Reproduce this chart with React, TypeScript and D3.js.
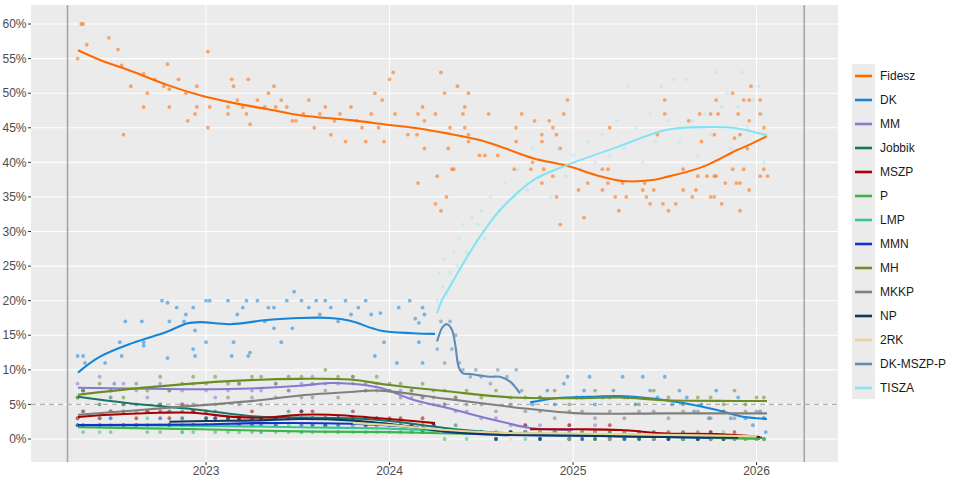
import React from 'react';
import * as d3 from 'd3';

const W = 960;
const H = 480;

// ---- axes ----
const yearTicks = [2023, 2024, 2025, 2026];
const pctTicks = [0, 5, 10, 15, 20, 25, 30, 35, 40, 45, 50, 55, 60];
const electionYears = [2022.245, 2026.26];
const threshold = 5;

// ---- parties (legend order) ----
const parties = ['Fidesz', 'DK', 'MM', 'Jobbik', 'MSZP', 'P', 'LMP', 'MMN', 'MH', 'MKKP', 'NP', '2RK', 'DK-MSZP-P', 'TISZA'];
const partyColors = ['#FF6A00', '#1585D8', '#8878D0', '#1B7566', '#A80000', '#3CB44B', '#36C98E', '#1433CC', '#6B8E23', '#808080', '#0D3A5C', '#E6D496', '#5B8DB8', '#86E3F5'];

// ---- polls (year, %) ----
const fideszPolls: [number, number][] = [
  [2022.30, 55], [2022.32, 60], [2022.33, 60], [2022.35, 57], [2022.47, 58], [2022.52, 56.3], [2022.54, 54], [2022.55, 44],
  [2022.59, 51], [2022.66, 48], [2022.66, 52.8], [2022.68, 50], [2022.72, 52], [2022.77, 51], [2022.79, 54.2], [2022.80, 50.6],
  [2022.80, 48], [2022.85, 52], [2022.89, 50], [2022.90, 46], [2022.94, 47], [2022.95, 51], [2022.95, 48], [2023.01, 56],
  [2023.01, 45], [2023.02, 48], [2023.12, 48], [2023.12, 47], [2023.14, 52], [2023.15, 51], [2023.17, 49], [2023.20, 48],
  [2023.22, 47], [2023.23, 52], [2023.24, 45.5], [2023.28, 49], [2023.32, 48], [2023.34, 50], [2023.37, 51], [2023.38, 48],
  [2023.41, 49], [2023.44, 48], [2023.47, 46], [2023.49, 46], [2023.53, 47], [2023.56, 49], [2023.59, 45], [2023.62, 47],
  [2023.65, 48], [2023.68, 44], [2023.70, 46], [2023.73, 47], [2023.76, 43], [2023.79, 48], [2023.82, 46], [2023.85, 45],
  [2023.87, 43], [2023.90, 47], [2023.92, 50], [2023.94, 45], [2023.96, 49], [2023.97, 43], [2024.00, 52], [2024.02, 53],
  [2024.03, 47], [2024.28, 53], [2024.37, 51], [2024.30, 50], [2024.43, 50], [2024.18, 48], [2024.41, 48], [2024.155, 47],
  [2024.25, 47], [2024.40, 47], [2024.54, 47], [2024.72, 47], [2024.95, 47], [2024.97, 49], [2024.19, 46], [2024.79, 46],
  [2024.87, 46], [2024.33, 45], [2024.41, 45], [2024.69, 45], [2024.89, 45], [2025.20, 45], [2024.10, 44], [2024.15, 44],
  [2024.43, 44], [2024.83, 44], [2024.91, 44], [2024.43, 43], [2024.69, 43], [2024.83, 43], [2024.19, 42], [2024.32, 42],
  [2024.93, 42], [2024.49, 41], [2024.52, 41], [2024.59, 41], [2024.78, 40], [2024.34, 39], [2024.35, 39], [2024.68, 39],
  [2024.77, 39], [2024.84, 39], [2025.16, 39], [2025.19, 39], [2024.26, 38], [2024.89, 38], [2024.155, 37], [2024.83, 37],
  [2025.08, 37], [2025.19, 37], [2025.27, 37], [2024.31, 35], [2024.91, 35], [2025.03, 36], [2025.16, 36], [2025.23, 35],
  [2025.29, 35], [2024.25, 34], [2024.28, 33], [2024.93, 31], [2025.06, 32], [2025.25, 33], [2025.50, 49], [2025.50, 47],
  [2025.46, 44], [2025.39, 37], [2025.44, 36], [2025.38, 36], [2025.40, 35], [2025.42, 34], [2025.49, 34], [2025.52, 33],
  [2025.56, 34], [2025.60, 36], [2025.60, 39], [2025.65, 35], [2025.67, 36], [2025.63, 46], [2025.69, 47], [2025.70, 43],
  [2025.68, 38], [2025.73, 38], [2025.77, 38], [2025.78, 38], [2025.75, 35], [2025.77, 35], [2025.81, 34], [2025.78, 49],
  [2025.75, 47], [2025.79, 47], [2025.77, 44], [2025.83, 37], [2025.87, 50], [2025.87, 39], [2025.88, 43.5], [2025.89, 37],
  [2025.90, 47], [2025.91, 44], [2025.91, 37], [2025.91, 33], [2025.93, 39], [2025.93, 49], [2025.96, 49], [2025.97, 51],
  [2025.96, 46], [2025.95, 42], [2025.96, 36], [2026.02, 49], [2026.02, 47], [2026.02, 38], [2026.04, 39], [2026.06, 38],
  [2026.04, 45],
];

const dkPolls: [number, number][] = [
  [2022.30, 12], [2022.33, 12], [2022.34, 11], [2022.45, 11], [2022.50, 8], [2022.53, 14], [2022.54, 12], [2022.56, 17],
  [2022.65, 17], [2022.66, 14], [2022.66, 13.5], [2022.76, 20], [2022.79, 19.7], [2022.80, 17], [2022.79, 11.7], [2022.84, 19],
  [2022.88, 17], [2022.89, 18], [2022.93, 19], [2022.93, 13], [2022.94, 12], [2022.94, 15.7], [2023.00, 20], [2023.02, 20],
  [2023.00, 14], [2023.12, 20], [2023.14, 12], [2023.15, 14], [2023.17, 18], [2023.20, 19], [2023.22, 20], [2023.23, 12],
  [2023.24, 12.5], [2023.28, 20], [2023.32, 17], [2023.34, 19], [2023.37, 19], [2023.37, 16], [2023.41, 14], [2023.44, 20],
  [2023.47, 16], [2023.48, 21.3], [2023.52, 20], [2023.56, 19], [2023.60, 20], [2023.62, 18], [2023.65, 20], [2023.68, 19],
  [2023.72, 17], [2023.76, 20], [2023.79, 18], [2023.83, 19], [2023.87, 20], [2023.90, 18], [2023.92, 12], [2023.95, 18.2],
  [2023.97, 14], [2024.04, 11], [2024.05, 19], [2024.11, 20], [2024.14, 17.4], [2024.16, 16.8], [2024.16, 14], [2024.18, 19],
  [2024.19, 18], [2024.18, 11],
  [2024.78, 5], [2024.82, 6], [2024.86, 7], [2024.90, 5], [2024.95, 8], [2024.97, 9], [2025.02, 6], [2025.06, 7],
  [2025.09, 9], [2025.12, 5], [2025.16, 6], [2025.22, 7], [2025.27, 9], [2025.30, 6], [2025.34, 5], [2025.38, 9],
  [2025.42, 7], [2025.46, 6], [2025.50, 9], [2025.54, 5], [2025.58, 7], [2025.62, 6], [2025.66, 4], [2025.70, 5],
  [2025.74, 3], [2025.78, 7], [2025.82, 4], [2025.86, 3], [2025.90, 6], [2025.94, 3], [2025.98, 2], [2026.02, 4],
  [2026.04, 3], [2026.05, 1],
];

const dkMszpPPolls: [number, number][] = [
  [2024.26, 13], [2024.28, 17], [2024.30, 11], [2024.33, 17], [2024.34, 13], [2024.36, 15], [2024.38, 11], [2024.40, 10],
  [2024.44, 9], [2024.47, 10], [2024.50, 9], [2024.55, 8], [2024.59, 10], [2024.64, 9], [2024.69, 10], [2024.72, 7],
];

const tiszaPolls: [number, number][] = [
  [2024.26, 20], [2024.27, 24], [2024.29, 22], [2024.30, 26], [2024.31, 21], [2024.33, 24], [2024.35, 27], [2024.37, 25],
  [2024.38, 29], [2024.40, 31], [2024.42, 27], [2024.45, 32], [2024.48, 31], [2024.50, 33], [2024.52, 29], [2024.55, 35],
  [2024.60, 33], [2024.63, 37], [2024.68, 35], [2024.70, 39], [2024.75, 36], [2024.78, 42], [2024.82, 38], [2024.85, 40],
  [2024.88, 35], [2024.92, 42], [2024.96, 38], [2025.00, 41], [2025.04, 39], [2025.08, 43], [2025.12, 40], [2025.16, 44],
  [2025.20, 41], [2025.24, 46], [2025.28, 42], [2025.30, 51], [2025.34, 45], [2025.38, 40], [2025.42, 47], [2025.45, 43],
  [2025.48, 51], [2025.52, 46], [2025.55, 52], [2025.58, 43], [2025.62, 52], [2025.65, 46], [2025.68, 41], [2025.72, 47],
  [2025.75, 44], [2025.78, 53], [2025.81, 48], [2025.84, 50], [2025.86, 42], [2025.90, 48], [2025.92, 53], [2025.95, 45],
  [2025.98, 49], [2026.01, 51], [2026.03, 47], [2026.05, 44], [2026.04, 40],
];

// small parties: common poll dates, one value per poll (null = not polled)
const pollYears = [
  2022.30, 2022.33, 2022.42, 2022.48, 2022.55, 2022.62, 2022.68, 2022.75, 2022.80, 2022.87,
  2022.93, 2023.00, 2023.05, 2023.12, 2023.18, 2023.25, 2023.30, 2023.38, 2023.45, 2023.52,
  2023.58, 2023.65, 2023.72, 2023.80, 2023.87, 2023.93, 2024.00, 2024.06, 2024.12, 2024.18,
  2024.24, 2024.30, 2024.36, 2024.42, 2024.50, 2024.58, 2024.66, 2024.74, 2024.82, 2024.90,
  2024.98, 2025.05, 2025.12, 2025.20, 2025.28, 2025.36, 2025.44, 2025.52, 2025.60, 2025.68,
  2025.75, 2025.82, 2025.88, 2025.94, 2026.00, 2026.04,
];
const n = null;
const mmPolls = [8, 7, 9, 7, 8, 7, 6, 8, 7, 7, 8, 7, 6, 7, 8, 7, 7, 8, 7, 8, 9, 8, 8, 9, 7, 8, 7, 7, 6, 6, 5, 5, 4, 4, 3, 3, 2, 2, 2, 1, 2, 1, 2, 1, n, n, n, n, n, n, n, n, n, n, n, n];
const jobbikPolls = [6, 7, 5, 6, 5, 5, 4, 5, 4, 4, 4, 3, 4, 3, 3, 3, 3, 3, 4, 3, 3, 2, 3, 3, 2, 3, 2, 2, 2, 2, 2, 1, 2, 1, 1, 1, 1, 1, 1, 1, 1, 0, 1, 1, 0, 1, 0, 1, 0, 0, 1, 0, 0, 0, 0, n];
const mszpPolls = [3, 4, 3, 4, 4, 3, 4, 4, 3, 5, 4, 4, 3, 3, 3, 4, 3, 3, 3, 4, 4, 3, 3, 4, 3, 3, 3, 3, 2, 3, 2, n, n, n, n, n, n, 2, 1, 1, 2, 1, 1, 2, 1, 1, 1, 1, 1, 1, 1, 0, 1, 0, 0, 0];
const pPolls = [2, 1, 2, 1, 2, 2, 1, 1, 2, 1, 1, 2, 1, 1, 1, 1, 1, 1, 1, 1, 1, 1, 1, 1, 1, 1, 1, 1, 1, 1, 1, 0, 1, 1, 1, 0, 1, 1, 0, 1, 0, 1, 0, 1, 0, 0, 1, 0, 0, 0, 0, 0, 0, 0, 0, 0];
const lmpPolls = [2, 2, 1, 2, 2, 2, 3, 2, 2, 1, 2, 2, 2, 3, 2, 2, 1, 2, 2, 1, 2, 2, 1, 2, 1, 2, 2, 1, 1, 1, 1, 1, 1, 0, 1, 1, 1, 0, 1, 1, 0, 1, 1, 0, 1, 0, 1, 0, 1, 0, 0, 1, 0, 0, 0, 0];
const mmnPolls = [2, 2, 2, 3, 2, 2, 2, 3, 2, 2, 2, 2, 3, 2, 2, 3, 2, 2, 3, 2, 2, 2, 3, 2, 2, 2, 2, 2, 2, 1, 2, 1, 1, 1, 1, 0, 1, 1, 0, 1, 0, 0, 1, 0, 0, 1, 0, 0, 0, 0, 0, n, n, n, n, n];
const mhPolls = [6, 7, 8, 7, 6, 8, 7, 9, 7, 8, 9, 8, 9, 8, 8, 9, 9, 8, 9, 9, 8, 10, 9, 9, 8, 9, 8, 8, 7, 8, 7, 7, 6, 7, 6, 7, 6, 6, 6, 7, 5, 6, 7, 6, 6, 5, 7, 6, 5, 6, 6, 5, 7, 5, 6, 6];
const mkkpPolls = [3, 4, 3, 4, 5, 4, 4, 5, 4, 5, 5, 4, 5, 6, 5, 6, 5, 6, 7, 6, 6, 7, 6, 8, 7, 7, 7, 6, 7, 6, 6, 5, 6, 5, 5, 4, 5, 4, 4, 3, 4, 4, 3, 4, 3, 4, 4, 3, 4, 4, 3, 4, 3, 4, 4, 3];
const npPolls = [n, n, n, n, n, n, n, n, 2, 3, 2, 3, 2, 3, 3, 2, 3, 3, 3, 4, 3, 3, 2, 3, 3, 2, 2, 2, 1, 2, 1, 1, 1, 1, 1, 0, 1, 1, 0, 1, 0, 1, 0, 0, 1, 0, 0, 0, 0, 0, 0, 0, 0, n, n, n];
const rk2Polls = [n, n, n, n, n, n, n, n, n, n, n, n, n, n, n, n, n, n, n, n, n, n, n, 2, 3, 2, 2, 2, 1, 2, 1, 1, 1, 1, 1, 1, 0, 1, 1, 1, 0, 1, 1, 0, 1, 1, 0, 1, 0, 1, 0, 1, 0, 0, 0, n];

// ---- smoothed trends (year, %) ----
const fideszTrend: [number, number][] = [
  [2022.302, 56.2], [2022.422, 54.8], [2022.602, 53.1], [2022.787, 51.2], [2022.967, 49.7], [2023.147, 48.6],
  [2023.332, 47.7], [2023.512, 46.8], [2023.785, 46.1], [2024.0, 45.4], [2024.16, 44.9], [2024.33, 44.1],
  [2024.48, 43.3], [2024.602, 42.3], [2024.782, 40.6], [2024.967, 39.5], [2025.147, 38.0], [2025.272, 37.3],
  [2025.42, 37.4], [2025.512, 37.9], [2025.692, 39.2], [2025.785, 40.3], [2025.872, 41.5], [2025.965, 42.6], [2026.057, 43.8],
];
const dkTrend: [number, number][] = [
  [2022.302, 9.6], [2022.422, 11.9], [2022.602, 13.9], [2022.787, 15.5], [2022.896, 16.7], [2022.967, 16.9],
  [2023.131, 16.6], [2023.332, 17.2], [2023.512, 17.5], [2023.676, 17.5], [2023.785, 17.1], [2023.948, 15.7],
  [2024.128, 15.3], [2024.248, 15.2],
];
const dkTrend2: [number, number][] = [
  [2024.766, 5.3], [2024.91, 5.9], [2025.092, 6.1], [2025.256, 6.2], [2025.42, 5.9], [2025.599, 5.2],
  [2025.785, 4.2], [2025.91, 3.3], [2026.057, 2.9],
];
const mmTrend: [number, number][] = [
  [2022.302, 7.4], [2022.602, 7.3], [2022.967, 7.2], [2023.24, 7.3], [2023.512, 7.7], [2023.676, 8.1],
  [2023.785, 8.0], [2023.948, 7.4], [2024.137, 5.6], [2024.33, 4.4], [2024.455, 3.5], [2024.64, 2.3],
  [2024.766, 1.6], [2025.0, 1.3],
];
const jobbikTrend: [number, number][] = [
  [2022.302, 6.1], [2022.569, 5.2], [2022.929, 4.3], [2023.293, 3.2], [2023.512, 3.1], [2023.785, 3.0],
  [2024.0, 2.6], [2024.3, 1.6], [2024.6, 0.9], [2025.0, 0.6], [2025.5, 0.4], [2026.03, 0.2],
];
const mszpTrend: [number, number][] = [
  [2022.302, 3.2], [2022.476, 3.5], [2022.75, 3.8], [2022.929, 3.8], [2023.147, 3.2], [2023.332, 3.1],
  [2023.512, 3.5], [2023.676, 3.5], [2023.948, 3.0], [2024.128, 2.6], [2024.248, 2.3],
];
const mszpTrend2: [number, number][] = [
  [2024.766, 1.4], [2025.038, 1.4], [2025.256, 1.3], [2025.512, 0.8], [2025.785, 0.7], [2026.019, 0.3],
];
const pTrend: [number, number][] = [
  [2022.302, 1.7], [2022.967, 1.4], [2023.512, 1.1], [2024.0, 1.0], [2024.33, 0.8], [2024.8, 0.6],
  [2025.5, 0.3], [2026.019, 0.0],
];
const lmpTrend: [number, number][] = [
  [2022.302, 2.0], [2023.0, 1.9], [2023.5, 1.7], [2024.0, 1.5], [2024.5, 0.9], [2025.0, 0.7],
  [2025.5, 0.5], [2026.0, 0.3],
];
const mmnTrend: [number, number][] = [
  [2022.302, 2.0], [2022.967, 2.1], [2023.29, 2.3], [2023.785, 2.2], [2024.128, 1.7], [2024.33, 1.0],
  [2024.6, 0.6], [2025.0, 0.5], [2025.5, 0.3], [2025.75, 0.2],
];
const mhTrend: [number, number][] = [
  [2022.302, 6.4], [2022.695, 7.5], [2023.147, 8.4], [2023.512, 8.7], [2023.785, 8.6], [2024.0, 7.8],
  [2024.313, 6.9], [2024.673, 6.0], [2025.038, 5.9], [2025.256, 6.0], [2025.512, 5.6], [2025.872, 5.5], [2026.057, 5.5],
];
const mkkpTrend: [number, number][] = [
  [2022.302, 3.5], [2022.787, 4.5], [2023.29, 5.6], [2023.512, 6.3], [2023.785, 6.8], [2023.948, 7.0],
  [2024.313, 5.8], [2024.673, 4.6], [2024.82, 4.2], [2025.038, 3.7], [2025.5, 3.7], [2026.057, 3.7],
];
const npTrend: [number, number][] = [
  [2022.8, 2.5], [2023.0, 2.6], [2023.29, 2.7], [2023.512, 2.9], [2023.785, 2.7], [2024.057, 2.0],
  [2024.313, 1.1], [2024.6, 0.7], [2025.0, 0.5], [2025.5, 0.3], [2025.9, 0.2],
];
const rk2Trend: [number, number][] = [
  [2023.8, 2.3], [2024.0, 2.0], [2024.313, 1.3], [2024.6, 0.9], [2025.0, 0.8], [2025.5, 0.6], [2026.0, 0.4],
];
const dkMszpPTrend: [number, number][] = [
  [2024.259, 14.1], [2024.29, 16.2], [2024.313, 16.6], [2024.34, 15.8], [2024.36, 13.3], [2024.377, 10.4],
  [2024.40, 9.5], [2024.44, 9.4], [2024.49, 9.2], [2024.55, 9.0], [2024.60, 9.0], [2024.657, 8.3], [2024.711, 6.6],
];
const tiszaTrend: [number, number][] = [
  [2024.259, 18.2], [2024.286, 20.1], [2024.33, 22.1], [2024.422, 26.3], [2024.51, 29.9], [2024.602, 33.1],
  [2024.782, 37.4], [2024.967, 39.6], [2025.24, 42.2], [2025.512, 44.7], [2025.73, 45.1], [2025.872, 45.0], [2026.057, 43.9],
];

const smallPolls: Record<string, (number | null)[]> = {
  MM: mmPolls, Jobbik: jobbikPolls, MSZP: mszpPolls, P: pPolls, LMP: lmpPolls, MMN: mmnPolls,
  MH: mhPolls, MKKP: mkkpPolls, NP: npPolls, '2RK': rk2Polls,
};
const bigPolls: Record<string, [number, number][]> = {
  Fidesz: fideszPolls, DK: dkPolls, 'DK-MSZP-P': dkMszpPPolls, TISZA: tiszaPolls,
};
const trends: Record<string, [number, number][][]> = {
  Fidesz: [fideszTrend], DK: [dkTrend, dkTrend2], MM: [mmTrend], Jobbik: [jobbikTrend], MSZP: [mszpTrend, mszpTrend2],
  P: [pTrend], LMP: [lmpTrend], MMN: [mmnTrend], MH: [mhTrend], MKKP: [mkkpTrend], NP: [npTrend], '2RK': [rk2Trend],
  'DK-MSZP-P': [dkMszpPTrend], TISZA: [tiszaTrend],
};

const panel = { left: 31, right: 838, top: 5, bottom: 462 };

export default function App() {
  const x = d3.scaleLinear().domain([2022.046, 2026.444]).range([panel.left, panel.right]);
  const y = d3.scaleLinear().domain([-3.325, 62.75]).range([panel.bottom, panel.top]);
  const color = d3.scaleOrdinal<string, string>().domain(parties).range(partyColors);
  const line = d3
    .line<[number, number]>()
    .x((d) => x(d[0]))
    .y((d) => y(d[1]))
    .curve(d3.curveCatmullRom.alpha(0.5));

  const points: { party: string; yr: number; v: number }[] = [];
  parties.forEach((p) => {
    if (bigPolls[p]) bigPolls[p].forEach(([yr, v]) => points.push({ party: p, yr, v }));
    if (smallPolls[p])
      smallPolls[p].forEach((v, i) => {
        if (v !== null) points.push({ party: p, yr: pollYears[i], v });
      });
  });

  const font = '"Liberation Sans", Arial, Helvetica, sans-serif';
  const legendTop = 76;
  const legendStep = 24;

  return (
    <svg width={W} height={H} style={{ position: 'fixed', left: 0, top: 0, background: '#fff' }} fontFamily={font}>
      <rect x={panel.left} y={panel.top} width={panel.right - panel.left} height={panel.bottom - panel.top} fill="#EBEBEB" />
      {pctTicks.map((t) => (
        <line key={'gy' + t} x1={panel.left} x2={panel.right} y1={y(t)} y2={y(t)} stroke="#fff" strokeWidth={1.1} />
      ))}
      {yearTicks.map((t) => (
        <line key={'gx' + t} x1={x(t)} x2={x(t)} y1={panel.top} y2={panel.bottom} stroke="#fff" strokeWidth={1.1} />
      ))}
      {electionYears.map((t) => (
        <line key={'el' + t} x1={x(t)} x2={x(t)} y1={panel.top} y2={panel.bottom} stroke="#A6A6A6" strokeWidth={1.6} />
      ))}
      <line x1={panel.left} x2={panel.right} y1={y(threshold)} y2={y(threshold)} stroke="#B0B0B0" strokeWidth={1.1} strokeDasharray="5,4" />

      {points.map((p, i) => (
        <circle key={'pt' + i} cx={x(p.yr)} cy={y(p.v)} r={1.9} fill={color(p.party)} fillOpacity={p.party === 'TISZA' ? 0.3 : 0.55} />
      ))}

      {parties.map((p) =>
        trends[p].map((seg, j) => (
          <path key={'tr' + p + j} d={line(seg) || ''} fill="none" stroke={color(p)} strokeWidth={2.1} strokeLinecap="butt" />
        ))
      )}

      {pctTicks.map((t) => (
        <g key={'ty' + t}>
          <line x1={panel.left - 3} x2={panel.left} y1={y(t)} y2={y(t)} stroke="#333" strokeWidth={1} />
          <text x={panel.left - 4.5} y={y(t)} dy="0.35em" textAnchor="end" fontSize={12} fill="#4D4D4D">
            {t + '%'}
          </text>
        </g>
      ))}
      {yearTicks.map((t) => (
        <g key={'tx' + t}>
          <line x1={x(t)} x2={x(t)} y1={panel.bottom} y2={panel.bottom + 3} stroke="#333" strokeWidth={1} />
          <text x={x(t)} y={panel.bottom + 13} textAnchor="middle" fontSize={12} fill="#4D4D4D">
            {t}
          </text>
        </g>
      ))}

      <rect x={852} y={legendTop - 12} width={23} height={legendStep * parties.length - 1} fill="#EBEBEB" />
      {parties.map((p, i) => (
        <g key={'lg' + p}>
          <line x1={855} x2={872} y1={legendTop + i * legendStep} y2={legendTop + i * legendStep} stroke={color(p)} strokeWidth={2.6} />
          <text x={880} y={legendTop + i * legendStep} dy="0.35em" fontSize={12} fill="#1A1A1A">
            {p}
          </text>
        </g>
      ))}
    </svg>
  );
}
